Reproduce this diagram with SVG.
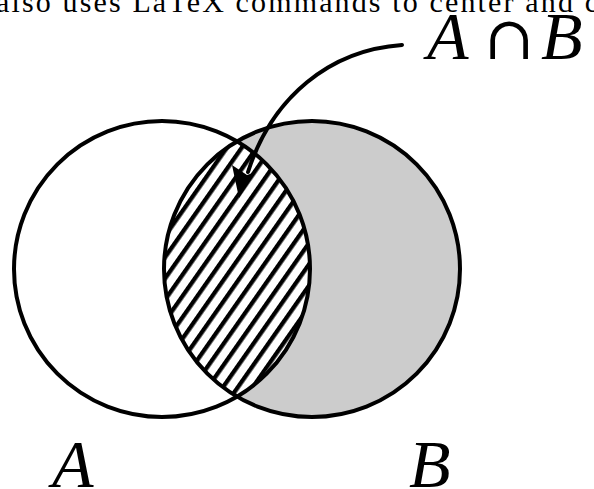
<svg xmlns="http://www.w3.org/2000/svg" width="594" height="489" viewBox="0 0 594 489">
<style>
.ring{fill:none;stroke:#000;stroke-width:4}
.lbl{font-family:"Liberation Serif","DejaVu Serif",serif;font-style:italic;font-size:68px;fill:#000}
.op{font-family:"DejaVu Serif","Liberation Serif",serif;font-size:60px;fill:#000}
.top{font-family:"Liberation Serif","DejaVu Serif",serif;font-size:30px;fill:#000}
</style>
<defs>
<pattern id="hatch" patternUnits="userSpaceOnUse" width="12.2" height="20" patternTransform="rotate(35)">
<rect x="0" y="0" width="12.2" height="20" fill="#fff"/>
<rect x="0" y="0" width="4.3" height="20" fill="#000"/>
</pattern>
<clipPath id="clipA"><circle cx="162" cy="269" r="148"/></clipPath>
</defs>
<text class="top" x="-4" y="12" textLength="602" lengthAdjust="spacing">also uses LaTeX commands to center and c</text>
<g id="setB-fill"><circle cx="312" cy="269" r="148" fill="#cccccc"/></g>
<g id="intersection"><circle cx="312" cy="269" r="148" fill="url(#hatch)" clip-path="url(#clipA)"/></g>
<g id="circleA"><circle class="ring" cx="162" cy="269" r="148"/></g>
<g id="circleB"><circle class="ring" cx="312" cy="269" r="148"/></g>
<g id="connectors">
<path d="M402,45 C330,50 272,97 248,172" fill="none" stroke="#000" stroke-width="4" stroke-linecap="round"/>
<polygon points="239,198 232,165 247,175 256,172" fill="#000"/>
</g>
<g id="label-AB">
<text class="lbl" x="427" y="59">A</text>
<text class="op" x="484" y="59">∩</text>
<text class="lbl" x="541" y="59">B</text>
</g>
<g id="label-A"><text class="lbl" x="52" y="487">A</text></g>
<g id="label-B"><text class="lbl" x="409" y="487">B</text></g>
</svg>
